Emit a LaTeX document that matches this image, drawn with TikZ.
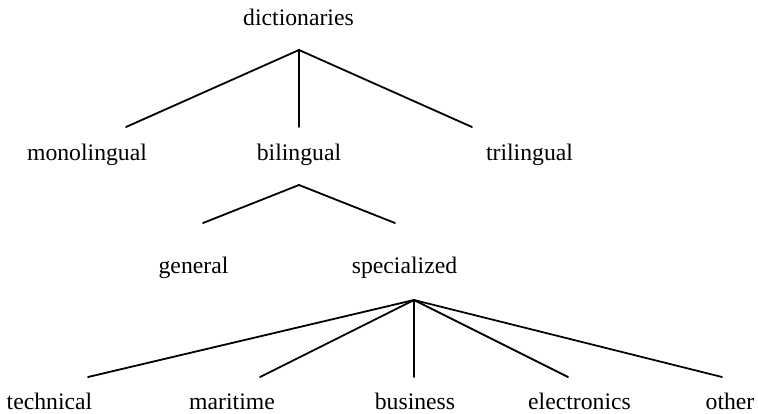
\documentclass[tikz,border=0pt]{standalone}
\usepackage{fontspec}
\setmainfont{Liberation Serif}
\begin{document}
\begin{tikzpicture}[x=1pt,y=-1pt,
  term/.style={anchor=base,inner sep=0pt,font=\fontsize{23.7}{28}\selectfont},
  branch/.style={line width=1.8pt,line cap=round}]
\useasboundingbox (0,0) rectangle (758,413);

% category labels
\node[term] (dict) at (298.5,25) {dictionaries};
\node[term] (mono) at (87,160) {monolingual};
\node[term] (bi)   at (299,160) {bilingual};
\node[term] (tri)  at (529.5,160) {trilingual};
\node[term] (gen)  at (193.5,273) {general};
\node[term] (spec) at (404.5,273) {specialized};
\node[term] (tech) at (49.5,409) {technical};
\node[term] (mar)  at (232,409) {maritime};
\node[term] (bus)  at (415,409) {business};
\node[term] (elec) at (579.5,409) {electronics};
\node[term] (oth)  at (730,409) {other};

% branching points and branch ends
\coordinate (dictroot) at (299,50);
\coordinate (monoend) at (126,127);
\coordinate (biend)   at (299,127);
\coordinate (triend)  at (472,127);
\coordinate (biroot)  at (299,185);
\coordinate (genend)  at (203,223);
\coordinate (specend) at (395,223);
\coordinate (specroot) at (414,300);
\coordinate (techend) at (88,377);
\coordinate (marend)  at (260,377);
\coordinate (busend)  at (414,377);
\coordinate (elecend) at (568,377);
\coordinate (othend)  at (722,377);

\draw[branch] (dictroot) -- (monoend);
\draw[branch] (dictroot) -- (biend);
\draw[branch] (dictroot) -- (triend);
\draw[branch] (biroot) -- (genend);
\draw[branch] (biroot) -- (specend);
\draw[branch] (specroot) -- (techend);
\draw[branch] (specroot) -- (marend);
\draw[branch] (specroot) -- (busend);
\draw[branch] (specroot) -- (elecend);
\draw[branch] (specroot) -- (othend);
\end{tikzpicture}
\end{document}
